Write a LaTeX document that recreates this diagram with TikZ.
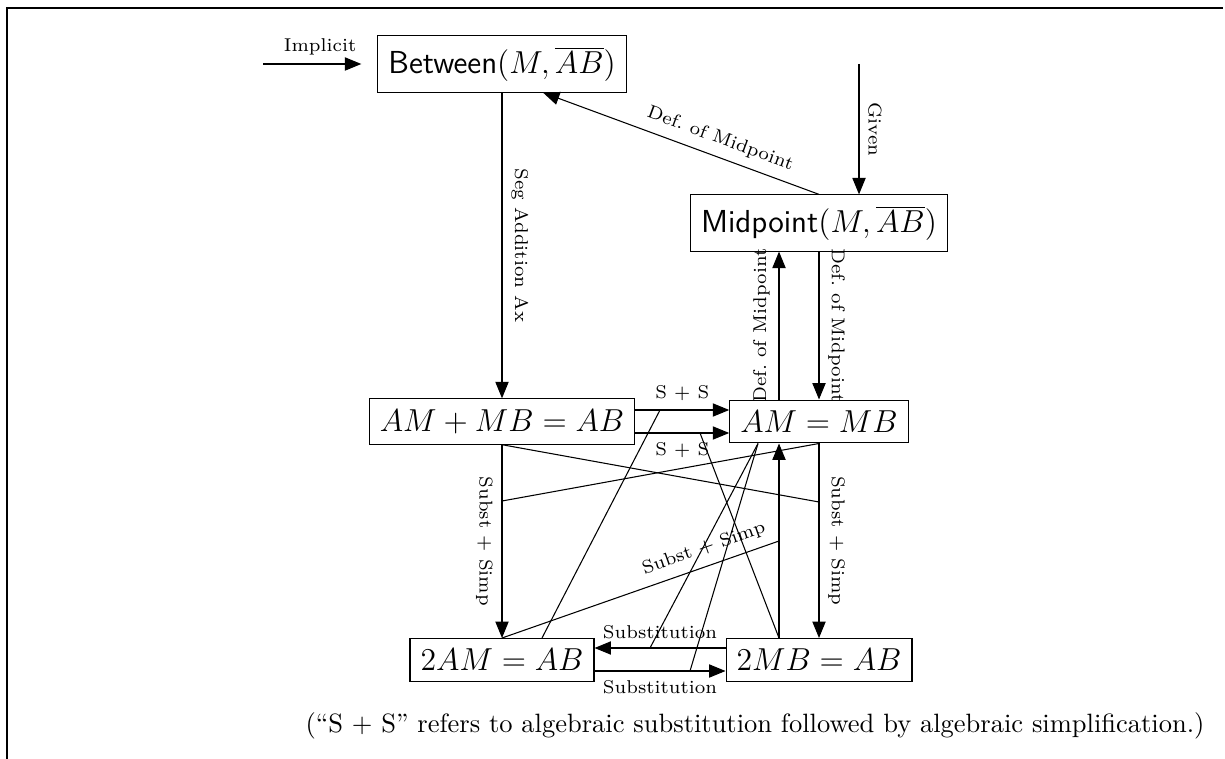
\documentclass[tikz,border=0pt]{standalone}
\usetikzlibrary{arrows.meta,calc}
\begin{document}
\begin{tikzpicture}[x=0.3774pt,y=-0.3774pt,
  box/.style={draw, font=\large, inner sep=4pt},
  lbl/.style={font=\scriptsize},
  arr/.style={-{Triangle[length=6.2pt,width=5pt]}}]
\useasboundingbox (0,0) rectangle (1225,759);
\draw[line width=0.8pt] (7,759) -- (7,8) -- (1223,8);

% nodes
\node[box] (between) at (502,64) {\textsf{Between}$(M,\overline{AB})$};
\node[box] (mid) at (819,223) {\textsf{Midpoint}$(M,\overline{AB})$};
\node[box] (ammb) at (502,421.5) {$AM+MB=AB$};
\node[box] (ameq) at (819,421.5) {$AM=MB$};
\node[box] (twoam) at (502,660) {$2AM=AB$};
\node[box] (twomb) at (819,660) {$2MB=AB$};
\node (caption) at (755,726) {(``S + S'' refers to algebraic substitution followed by algebraic simplification.)};

% free ends and points on connectors
\coordinate (impl) at (263,64);
\coordinate (given) at (859,64);
\coordinate (q1) at (819,502);
\coordinate (q2) at (502,501);
\coordinate (q3) at (779,541);
\coordinate (q4) at (660,410);
\coordinate (q5) at (700,433);
\coordinate (q6) at (650,648);
\coordinate (q7) at (690,671);

% arrows
\draw[arr, shorten >=6pt] (impl) -- (between) node[lbl, midway, above] {Implicit};
\draw[arr] (given) -- (given |- mid.north) node[lbl, midway, sloped, above] {Given};
\draw[arr] (between.south) -- (ammb.north) node[lbl, midway, sloped, above] {Seg Addition Ax};
\draw[arr] (mid.north) -- ($(between.south)+(41,0)$) node[lbl, pos=0.38, sloped, above] {Def.\ of Midpoint};
\draw[arr] (mid.south) -- (ameq.north) node[lbl, midway, sloped, above] {Def.\ of Midpoint};
\draw[arr] ($(ameq.north)+(-40,0)$) -- ($(mid.south)+(-40,0)$) node[lbl, midway, sloped, above] {Def.\ of Midpoint};
\draw[arr] ($(ammb.east)+(0,-11.5)$) -- ($(ameq.west)+(0,-11.5)$) node[lbl, midway, above] {S + S};
\draw[arr] ($(ammb.east)+(0,11.5)$) -- ($(ameq.west)+(0,11.5)$) node[lbl, midway, below] {S + S};
\draw[arr] (ammb.south) -- (twoam.north) node[lbl, midway, sloped, below] {Subst + Simp};
\draw[arr] (ameq.south) -- (twomb.north) node[lbl, midway, sloped, above] {Subst + Simp};
\draw[arr] ($(twomb.north)+(-40,0)$) -- ($(ameq.south)+(-40,0)$);
\draw[arr] ($(twomb.west)+(0,-12)$) -- ($(twoam.east)+(0,-12)$) node[lbl, midway, above] {Substitution};
\draw[arr] ($(twoam.east)+(0,11)$) -- ($(twomb.west)+(0,11)$) node[lbl, midway, below] {Substitution};

% crossing lines
\draw (ammb.south) -- (q1);
\draw (q2) -- (ameq.south);
\draw (twoam.north) -- (q3) node[lbl, pos=0.75, sloped, above] {Subst + Simp};
\draw (q4) -- ($(twoam.north)+(40,0)$);
\draw (q5) -- ($(twomb.north)+(-40,0)$);
\draw ($(ameq.south)+(-61,0)$) -- (q6);
\draw ($(ameq.south)+(-61,0)$) -- (q7);
\end{tikzpicture}
\end{document}
